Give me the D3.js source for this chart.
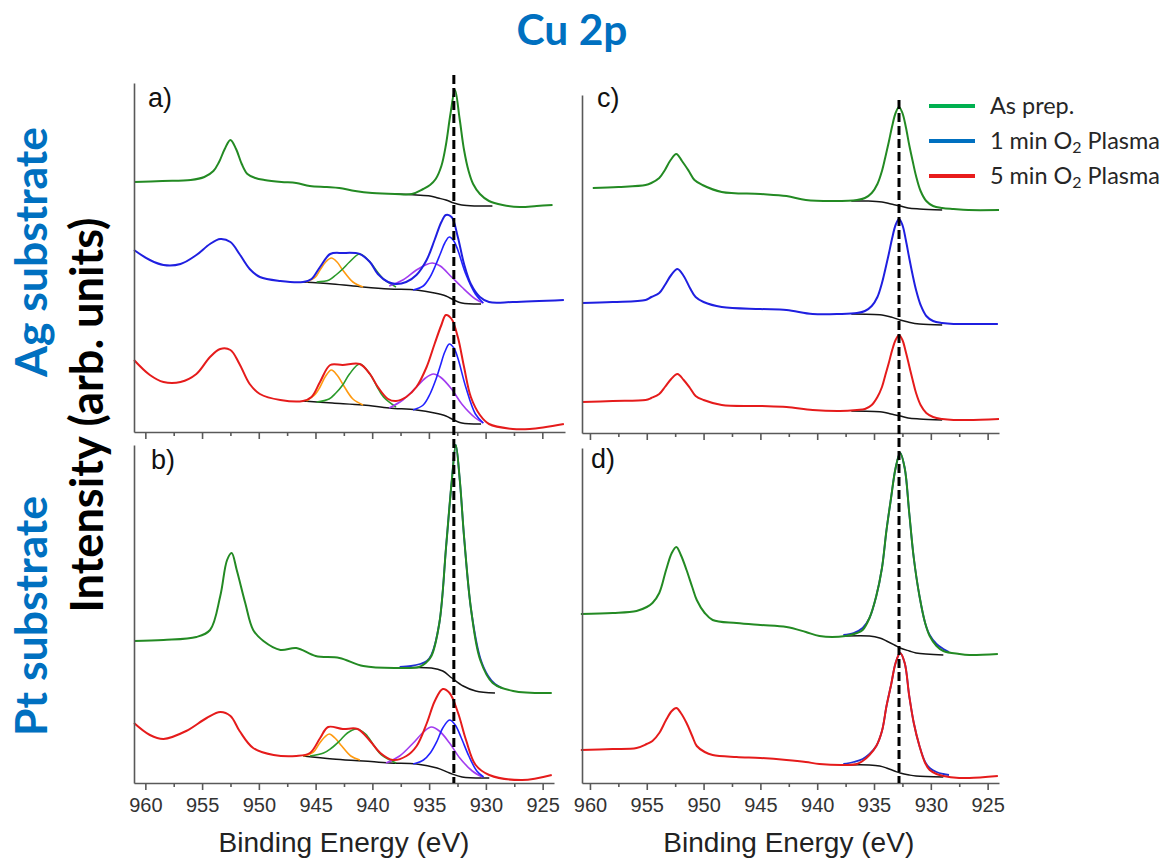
<!DOCTYPE html>
<html>
<head>
<meta charset="utf-8">
<script src="https://cdn.jsdelivr.net/npm/d3@7"></script>
<style>
body { margin: 0; background: #fff; }
text { font-family: "Liberation Sans", Arial, sans-serif; }
</style>
</head>
<body>
<svg id="chart" width="1165" height="858"></svg>
<script>
// binding energy axis (eV)
var majorTicks = [960, 955, 950, 945, 940, 935, 930, 925];
var minorTicks = [957.5, 952.5, 947.5, 942.5, 937.5, 932.5, 927.5];
var dashEnergy = 932.8;

var legendLabels = [["As prep.", ""], ["1 min O", " Plasma"], ["5 min O", " Plasma"]];
var legendColors = ["#00b050", "#0070c0", "#e81c1c"];

// every series: [binding energy (eV), intensity (arb. units)]

// a) Ag substrate
var aGreen = [[961.0,250],[958.5,251],[956,252],[954.8,255],[954.0,261],[953.5,270],[953.0,283],[952.5,292],[952.0,283],[951.5,268],[951.0,258],[950.3,254],[949.5,252],[948,250],[946.7,249],[945.5,246],[944,245],[942.9,244],[941.5,241],[940,239],[938,238],[936.5,238],[935.5,243],[934.9,247],[934.4,253],[933.9,266],[933.5,287],[933.1,318],[932.7,342],[932.3,314],[931.9,282],[931.5,261],[931.1,248],[930.5,238],[929.7,231],[928.5,227],[927,225],[925.5,226],[924.1,227]];
var aGreenBg = [[937.9,238],[936.1,237],[934.9,236],[934.2,234],[933.5,232],[932.8,229],[932.1,227],[931.0,226],[929.4,226]];

var aBlue = [[961.0,182],[959.6,172],[958.4,167],[956.9,168],[955.5,177],[954.3,188],[953.4,193],[952.5,190],[951.7,178],[950.8,163],[949.9,155],[948.1,151],[946.1,150],[945.35,153],[944.6,165],[943.7,178],[942.6,179],[941.1,178],[940.2,170],[939.5,158],[938.6,150],[937.9,148],[937.0,150],[936.1,157],[935.2,172],[934.5,192],[933.9,210],[933.5,217],[933.0,215],[932.45,195],[931.9,168],[931.3,148],[930.5,135],[929.7,130],[927.6,130],[923.1,132]];
var aBlueBg = [[946.1,150],[943.5,148],[940.8,145],[938.5,143],[936.1,142],[934.5,139],[933.5,136],[932.8,132],[932.1,129],[930.4,128]];
var aBlueOrange = [[945.8,150],[945.0,155],[944.6,162],[944.1,170],[943.6,174],[943.1,170],[942.6,162],[941.7,150],[940.8,145]];
var aBlueGreenFit = [[944.9,150],[943.8,152],[943.2,157],[942.6,163],[942.0,170],[941.1,178],[940.2,170],[939.6,161],[939.0,153],[937.9,145]];
var aBluePurple = [[938.5,146],[937.3,152],[936.1,162],[935.3,167],[934.7,169],[934.0,166],[933.0,155],[932.1,145],[930.9,133],[930.2,129]];
var aBlueBlueFit = [[936.4,142],[935.5,146],[934.9,155],[934.4,167],[934.0,178],[933.6,189],[933.2,195],[932.8,191],[932.45,182],[931.75,158],[930.9,138],[930.2,129]];

var aRed = [[961.0,72],[959.6,57],[958.4,50],[956.9,50],[955.5,58],[954.3,75],[953.4,83],[952.5,82],[951.7,68],[950.8,48],[949.9,38],[948.1,32],[946.1,31],[945.35,35],[944.6,50],[943.7,67],[942.6,67],[941.1,68],[940.2,58],[939.5,45],[938.6,33],[937.9,31],[937.0,35],[936.1,45],[935.2,65],[934.5,88],[933.9,107],[933.5,117],[933.0,113],[932.45,95],[931.9,65],[931.3,35],[930.5,17],[929.7,8],[927.6,3],[926.1,3],[923.1,8]];
var aRedBg = [[946.1,31],[943.5,29],[940.8,27],[938.5,24],[936.1,22],[934.5,19],[933.5,16],[932.8,12],[932.1,9],[930.4,8]];
var aRedOrange = [[945.8,31],[945.0,38],[944.6,45],[944.1,56],[943.6,62],[943.1,57],[942.6,48],[941.7,33],[940.8,27]];
var aRedGreenFit = [[944.9,30],[943.8,33],[943.2,39],[942.6,47],[942.0,58],[941.1,68],[940.2,58],[939.6,46],[939.0,35],[937.9,25]];
var aRedPurple = [[938.5,24],[937.3,32],[936.1,45],[935.3,54],[934.6,58],[934.0,55],[933.0,43],[932.1,28],[930.9,14],[930.2,9]];
var aRedBlueFit = [[936.4,22],[935.5,27],[934.9,38],[934.4,52],[934.0,66],[933.6,80],[933.2,88],[932.8,84],[932.45,74],[931.75,45],[930.9,18],[930.2,9]];

// b) Pt substrate
var bGreen = [[961.0,142],[958.4,143],[955.5,146],[954.3,153],[953.4,187],[952.8,223],[952.4,230],[951.95,213],[951.2,180],[950.5,153],[949.6,142],[948.1,133],[946.7,135],[945.0,127],[942.9,125],[940.8,117],[937.9,115],[935.9,116],[935.3,120],[934.8,127],[934.1,160],[933.5,237],[933.0,303],[932.65,338],[932.3,303],[931.9,243],[931.3,173],[930.5,123],[929.4,100],[927.6,92],[924.2,90]];
var bGreenBg = [[937.9,115],[934.8,115],[933.8,112],[933.0,105],[932.0,97],[930.9,92],[929.2,90]];
var bGreenFit = [[937.6,116],[936.6,117],[935.8,119],[935.2,122],[934.8,128],[934.1,160],[933.5,237],[933.0,303],[932.65,338],[932.3,303],[931.9,243],[931.3,173],[930.5,125],[929.8,107],[929.2,99],[928.6,95]];

var bRed = [[961.0,60],[959.6,48],[958.4,44],[956.4,52],[954.6,65],[953.4,71],[952.5,67],[951.7,52],[950.5,35],[948.7,28],[946.7,27],[945.5,30],[944.6,45],[943.9,56],[942.6,54],[941.3,54],[940.2,42],[939.3,30],[938.2,23],[937.0,27],[936.1,37],[935.2,60],[934.5,82],[933.8,94],[933.2,90],[932.45,70],[931.75,43],[930.9,18],[929.7,8],[926.8,3],[924.2,8]];
var bRedBg = [[946.1,27],[943.5,24],[940.8,22],[938.5,20],[936.1,19],[934.3,15],[933.2,10],[932.1,6],[929.7,5]];
var bRedOrange = [[946.1,27],[945.2,31],[944.7,39],[944.2,46],[943.8,49],[943.3,45],[942.7,37],[941.9,27],[941.1,23]];
var bRedGreenFit = [[945.5,27],[944.3,30],[943.6,35],[942.9,42],[942.2,50],[941.4,54],[940.6,49],[939.9,38],[939.2,28],[937.9,20]];
var bRedPurple = [[938.8,20],[937.6,27],[936.4,40],[935.5,51],[934.8,56],[934.1,52],[933.2,40],[932.3,25],[931.2,12],[930.3,6]];
var bRedBlueFit = [[936.4,19],[935.5,23],[934.9,30],[934.3,42],[933.8,55],[933.2,63],[932.7,58],[932.2,46],[931.5,27],[930.8,12],[930.2,6]];

// c) Ag substrate, second set
var cGreen = [[959.75,245],[957.5,246],[955.1,248],[954.6,250],[953.9,255],[953.4,263],[952.9,273],[952.4,279],[951.9,272],[951.3,262],[950.8,253],[950.1,248],[948.4,241],[945.0,239],[942.7,237],[941.0,233],[938.5,232],[936.5,233],[935.8,235],[935.2,240],[934.7,249],[934.3,262],[934.0,276],[933.7,291],[933.4,307],[933.1,320],[932.8,326],[932.5,320],[932.2,306],[931.9,288],[931.6,272],[931.3,257],[930.9,242],[930.4,232],[929.8,227],[929.0,225],[928.0,224],[926.7,223],[924.0,223]];
var cGreenBg = [[937.0,232],[935.5,232],[934.3,231],[933.5,229],[932.7,227],[932.0,225],[931.0,224],[929.0,223]];

var cBlue = [[960.7,130],[958,131],[955.1,133],[954.6,136],[953.9,140],[953.4,148],[952.85,158],[952.3,164],[951.75,157],[951.2,145],[950.7,136],[950.0,131],[948.4,126],[945.0,124],[942.7,123],[940.4,119],[938.0,119],[936.5,120],[935.8,122],[935.2,127],[934.7,136],[934.3,150],[934.0,164],[933.7,179],[933.4,195],[933.1,208],[932.8,214],[932.5,208],[932.2,193],[931.9,175],[931.6,158],[931.3,143],[930.9,128],[930.4,117],[929.8,112],[929.0,110],[928.0,109],[926.7,109],[924.1,109]];
var cBlueBg = [[937.0,119],[934.3,118],[933.5,116],[932.7,113],[932.0,111],[931.0,109],[929.0,108]];

var cRed = [[960.7,31],[958,32],[955.1,33],[954.6,35],[953.9,39],[953.4,46],[952.85,54],[952.3,59],[951.75,53],[951.2,45],[950.7,37],[950.0,33],[948.4,28],[945.0,27],[942.7,26],[940.4,23],[938.0,22],[936.5,23],[935.8,24],[935.2,28],[934.7,36],[934.3,46],[934.0,58],[933.7,70],[933.4,83],[933.1,93],[932.8,98],[932.5,93],[932.2,81],[931.9,67],[931.6,53],[931.3,40],[930.9,28],[930.4,20],[929.8,16],[929.0,14],[928.0,13],[926.7,13],[924.0,14]];
var cRedBg = [[937.0,22],[934.3,21],[933.5,19],[932.7,17],[932.0,15],[931.0,14],[929.0,13]];

// d) Pt substrate, second set
var dGreen = [[960.8,169],[958,170],[955.9,172],[955.0,176],[954.5,180],[953.9,190],[953.3,213],[952.8,230],[952.4,236],[952.0,228],[951.5,213],[951.0,196],[950.6,183],[949.9,170],[949.2,163],[947.1,160],[945.0,158],[942.7,156],[941.0,151],[939.8,147],[937.5,147],[936.5,150],[936.0,153],[935.4,165],[934.8,187],[934.3,215],[933.9,253],[933.5,285],[933.1,315],[932.7,330],[932.3,315],[931.9,270],[931.5,225],[931.0,187],[930.5,160],[930.1,147],[929.5,137],[928.9,132],[927.5,129],[926.6,128],[924.1,129]];
var dGreenBg = [[937.5,147],[935.4,147],[934.5,145],[933.9,142],[933.2,138],[932.7,135],[931.9,132],[931.3,130],[928.9,128]];
var dGreenFit = [[937.7,148],[936.8,150],[936.0,155],[935.4,165],[934.8,187],[934.3,215],[933.9,253],[933.5,285],[933.1,315],[932.7,330],[932.3,315],[931.9,270],[931.5,225],[931.0,187],[930.5,160],[930.1,148],[929.5,139],[928.9,134],[928.4,131]];

var dRed = [[960.8,33],[958,34],[955.9,35],[955.0,39],[954.5,42],[953.9,50],[953.3,63],[952.8,72],[952.4,75],[952.0,70],[951.5,60],[951.0,47],[950.6,37],[949.9,31],[949.2,28],[947.1,26],[945.0,25],[942.7,23],[941.0,21],[939.8,19],[937.5,18],[936.5,19],[936.0,22],[935.4,28],[934.8,37],[934.3,52],[933.9,77],[933.5,98],[933.1,120],[932.7,130],[932.3,120],[931.9,87],[931.5,60],[931.0,37],[930.5,20],[930.1,13],[929.5,9],[928.9,7],[927.5,5],[926.6,5],[924.1,7]];
var dRedBg = [[937.5,18],[935.4,18],[934.5,17],[933.9,15],[933.2,12],[932.7,10],[931.9,8],[931.3,7],[928.9,6]];
var dRedFit = [[937.7,19],[936.8,21],[936.0,24],[935.4,29],[934.8,37],[934.3,52],[933.9,77],[933.5,98],[933.1,120],[932.7,130],[932.3,120],[931.9,87],[931.5,60],[931.0,37],[930.5,21],[930.1,15],[929.5,11],[928.9,9],[928.4,8]];

var styles = {
    bg:     { color: "#151515", width: 1.5 },
    green:  { color: "#238a23", width: 2 },
    blue:   { color: "#1f1fe0", width: 2 },
    red:    { color: "#e51b1b", width: 2 },
    orange: { color: "#ff9a10", width: 1.6 },
    cgreen: { color: "#2a9a2a", width: 1.6 },
    purple: { color: "#a23cf0", width: 1.6 },
    cblue:  { color: "#2222ff", width: 1.6 },
    fit:    { color: "#2030d0", width: 1.8 }
};

var panels = [
    { label: "a)", lx: 148, ly: 107, left: 134, right: 565, top: 83, bottom: 432, e0: 961, e1: 923, yMax: 349, labels: false,
      series: [[aGreenBg,"bg"],[aGreen,"green"],
               [aBlueBg,"bg"],[aBlueOrange,"orange"],[aBlueGreenFit,"cgreen"],[aBluePurple,"purple"],[aBlueBlueFit,"cblue"],[aBlue,"blue"],
               [aRedBg,"bg"],[aRedOrange,"orange"],[aRedGreenFit,"cgreen"],[aRedPurple,"purple"],[aRedBlueFit,"cblue"],[aRed,"red"]] },
    { label: "b)", lx: 151, ly: 469, left: 134, right: 554, top: 445, bottom: 783, e0: 961, e1: 924, yMax: 338, labels: true,
      series: [[bGreenBg,"bg"],[bGreenFit,"fit"],[bGreen,"green"],
               [bRedBg,"bg"],[bRedOrange,"orange"],[bRedGreenFit,"cgreen"],[bRedPurple,"purple"],[bRedBlueFit,"cblue"],[bRed,"red"]] },
    { label: "c)", lx: 597, ly: 107, left: 582, right: 999, top: 95, bottom: 433, e0: 960.7, e1: 924, yMax: 338, labels: false,
      series: [[cGreenBg,"bg"],[cGreen,"green"],[cBlueBg,"bg"],[cBlue,"blue"],[cRedBg,"bg"],[cRed,"red"]] },
    { label: "d)", lx: 591, ly: 468, left: 582, right: 999, top: 448, bottom: 783, e0: 960.7, e1: 924, yMax: 335, labels: true,
      series: [[dGreenBg,"bg"],[dGreenFit,"fit"],[dGreen,"green"],[dRedBg,"bg"],[dRedFit,"fit"],[dRed,"red"]] }
];

var svg = d3.select("#chart");

function fitText(sel, width) {
    var w = sel.node().getComputedTextLength();
    var fs = parseFloat(sel.style("font-size"));
    sel.style("font-size", (fs * width / w) + "px");
}

panels.forEach(function (p) {
    var x = d3.scaleLinear().domain([p.e0, p.e1]).range([p.left, p.right]);
    var y = d3.scaleLinear().domain([0, p.yMax]).range([p.bottom, p.top]);
    p.x = x;

    var line = d3.line()
        .x(function (d) { return x(d[0]); })
        .y(function (d) { return y(d[1]); })
        .curve(d3.curveCatmullRom.alpha(0.5));

    var g = svg.append("g");
    p.series.forEach(function (s) {
        var st = styles[s[1]];
        g.append("path")
            .datum(s[0])
            .attr("d", line)
            .attr("fill", "none")
            .attr("stroke", st.color)
            .attr("stroke-width", st.width)
            .attr("stroke-linejoin", "round");
    });

    var xAxis = svg.append("g")
        .attr("transform", "translate(0," + p.bottom + ")")
        .call(d3.axisBottom(x).tickValues(majorTicks).tickSize(7).tickSizeOuter(0).tickPadding(8)
            .tickFormat(p.labels ? d3.format("d") : function () { return ""; }));
    xAxis.selectAll("text")
        .attr("font-family", "Liberation Sans, Arial, sans-serif")
        .attr("font-size", 20)
        .attr("fill", "#333");
    svg.append("g")
        .attr("transform", "translate(0," + p.bottom + ")")
        .call(d3.axisBottom(x).tickValues(minorTicks).tickSize(4).tickFormat(""))
        .select(".domain").remove();

    svg.append("g")
        .attr("transform", "translate(" + p.left + ",0)")
        .call(d3.axisLeft(y).tickValues([]).tickSizeOuter(0));

    svg.append("text")
        .attr("x", p.lx).attr("y", p.ly)
        .attr("font-size", 27)
        .attr("fill", "#111")
        .text(p.label);

    if (p.labels) {
        var xt = svg.append("text")
            .attr("x", x(950) + (x(935) - x(950)) / 2)
            .attr("y", 852)
            .attr("text-anchor", "middle")
            .attr("font-size", 27)
            .attr("fill", "#222")
            .text("Binding Energy (eV)");
        fitText(xt, 251);
    }
});

svg.selectAll(".domain, .tick line")
    .attr("stroke", "#595959")
    .attr("stroke-width", 1.6);

// dashed reference line through each column
[[panels[0], 75, panels[1].bottom], [panels[2], 100, panels[3].bottom]].forEach(function (c) {
    var xd = c[0].x(dashEnergy);
    svg.append("line")
        .attr("x1", xd).attr("x2", xd)
        .attr("y1", c[1]).attr("y2", c[2])
        .attr("stroke", "#000")
        .attr("stroke-width", 3)
        .attr("stroke-dasharray", "9,4");
});

// title and side labels
var title = svg.append("text")
    .attr("x", 572).attr("y", 45)
    .attr("text-anchor", "middle")
    .style("font-family", "Lato, sans-serif")
    .style("font-weight", "bold")
    .style("font-size", "44px")
    .attr("fill", "#0070c0")
    .text("Cu 2p");
fitText(title, 111);

var sideLabels = [["Ag substrate", 47, 252, 250, "#0070c0"], ["Pt substrate", 47, 616, 240, "#0070c0"], ["Intensity (arb. units)", 103, 415, 395, "#000"]];
sideLabels.forEach(function (s) {
    var t = svg.append("text")
        .attr("transform", "translate(" + s[1] + "," + s[2] + ") rotate(-90)")
        .attr("text-anchor", "middle")
        .style("font-family", "Lato, sans-serif")
        .style("font-weight", "bold")
        .style("font-size", "44px")
        .attr("fill", s[4])
        .text(s[0]);
    fitText(t, s[3]);
});

// legend
var legend = svg.append("g");
var legendY = d3.scalePoint().domain(d3.range(legendLabels.length)).range([106, 176]);
var legendTexts = [];
legendLabels.forEach(function (l, i) {
    var yy = legendY(i);
    legend.append("line")
        .attr("x1", 929).attr("x2", 975)
        .attr("y1", yy).attr("y2", yy)
        .attr("stroke", legendColors[i])
        .attr("stroke-width", 4);
    var t = legend.append("text")
        .attr("x", 990).attr("y", yy + 8)
        .style("font-family", "Lato, sans-serif")
        .style("font-size", "21px")
        .attr("fill", "#262626");
    t.append("tspan").text(l[0]);
    if (l[1]) {
        t.append("tspan").attr("baseline-shift", "-22%").style("font-size", "0.68em").text("2");
        t.append("tspan").text(l[1]);
    }
    legendTexts.push(t);
});
// size the legend so the longest entry spans the same width as in the figure
var longest = legendTexts[2].node().getComputedTextLength();
var legendSize = 21 * 170 / longest;
legendTexts.forEach(function (t) { t.style("font-size", legendSize + "px"); });
</script>
</body>
</html>
